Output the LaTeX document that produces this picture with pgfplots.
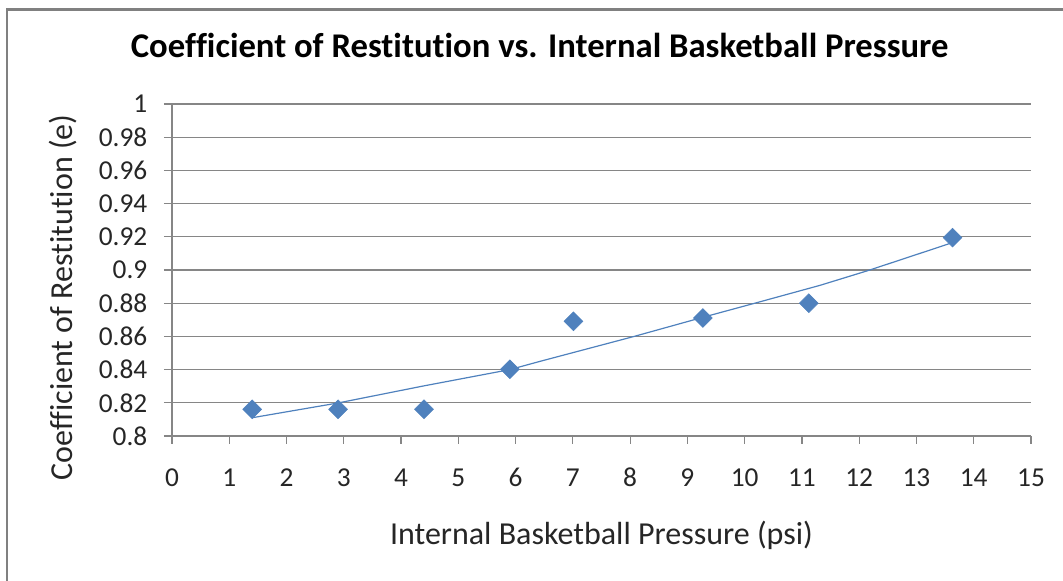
\documentclass[border=0pt]{standalone}
\usepackage{pgfplots}
\pgfplotsset{compat=1.18}
\usepackage{fontspec}
\setmainfont{Carlito}[Ligatures={NoCommon}]
\definecolor{ptblue}{RGB}{79,129,189}
\definecolor{axgray}{RGB}{134,134,134}
\definecolor{brdgray}{RGB}{128,128,128}
\begin{document}
\begin{tikzpicture}
\useasboundingbox (0,0) rectangle (797.25pt,435.75pt);
\draw[brdgray, line width=2.2pt] (5.25pt,0pt) -- (5.25pt,428.6pt) -- (800pt,428.6pt);
\begin{axis}[
  at={(129pt,108.75pt)}, anchor=south west,
  scale only axis, width=644.25pt, height=249pt,
  xmin=0, xmax=15, ymin=0.8, ymax=1,
  xtick={0,1,...,15},
  ytick={0.8,0.82,0.84,0.86,0.88,0.9,0.92,0.94,0.96,0.98,1},
  yticklabels={0.8,0.82,0.84,0.86,0.88,0.9,0.92,0.94,0.96,0.98,1},
  axis x line*=bottom, axis y line*=left,
  axis line style={axgray, line width=0.9pt, -},
  ymajorgrids, major grid style={axgray, line width=0.9pt},
  tick style={axgray, line width=0.9pt},
  tick align=outside, major tick length=6pt,
  /pgf/number format/assume math mode=true,
  ticklabel style={font=\fontsize{20.5}{23}\selectfont, text=black!85},
  xticklabel style={text height=14pt, text depth=0pt, yshift=-14pt},
  yticklabel style={xshift=-9pt},
  xlabel={Internal Basketball Pressure (psi)},
  ylabel={Coefficient of Restitution (e)},
  label style={font=\fontsize{24}{27}\selectfont, text=black!85},
  xlabel style={at={(axis description cs:0.5,-0.298)}, anchor=center},
  ylabel style={at={(axis description cs:-0.127,0.417)}, anchor=center, rotate=0},
  title={\textbf{Coefficient of Restitution vs. Internal Basketball Pressure}},
  title style={font=\fontsize{26}{30}\selectfont, at={(axis description cs:0.428,1.152)}, anchor=center},
  clip=false,
]
\addplot[ptblue, line width=0.9pt] coordinates {
 (1.4,0.811) (2.9,0.8199) (4.4,0.8302) (5.9,0.8400) (6.43,0.8450)
 (8.05,0.8598) (9.27,0.8715) (10.21,0.8803) (11.32,0.8908) (12.14,0.8995) (13.63,0.9165)
};
\addplot[only marks, mark=square*, mark size=5pt, mark options={rotate=45, fill=ptblue, draw=ptblue}] coordinates {
 (1.40,0.8161) (2.90,0.8161) (4.40,0.8161) (5.90,0.8402)
 (7.01,0.8691) (9.27,0.8711) (11.12,0.8800) (13.63,0.9195)
};
\end{axis}
\end{tikzpicture}
\end{document}
